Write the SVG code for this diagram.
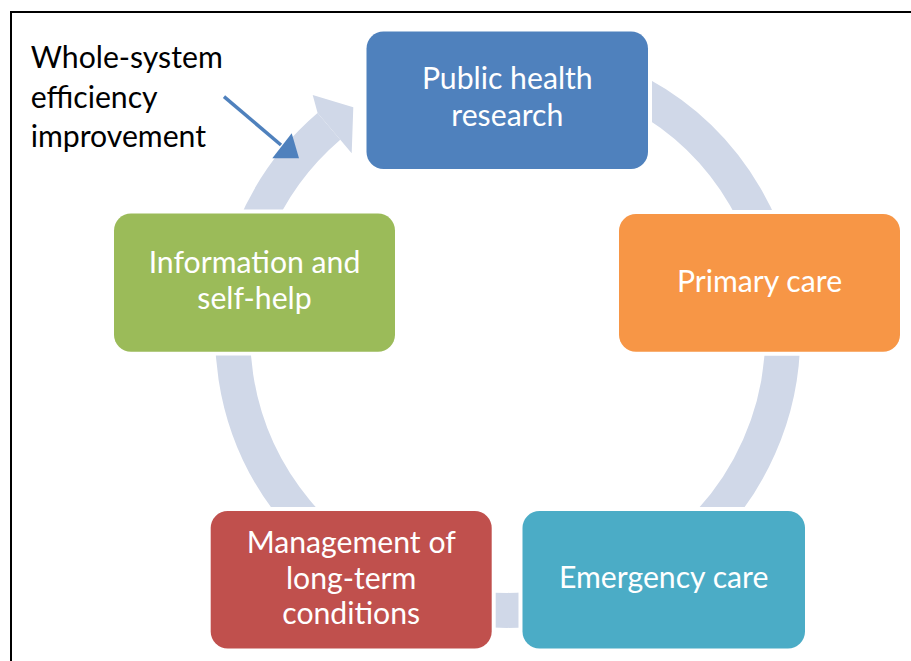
<svg xmlns="http://www.w3.org/2000/svg" width="911" height="661" viewBox="0 0 911 661">
<style>
.box text{fill:#fff;font-family:Lato,"Open Sans",sans-serif;font-size:30.2px;text-anchor:middle}
.mask{fill:#fff}
.lbl{fill:#000;font-family:Lato,"Open Sans",sans-serif;font-size:30.2px}
</style>
<rect width="911" height="661" fill="#fff"/>
<path d="M11,661 V12 H911" fill="none" stroke="#000" stroke-width="2"/>
<g id="connectors">
<path d="M372.1,96.1 A275,275 0 1 1 328.9,126.4" fill="none" stroke="#D0D8E8" stroke-width="35"/>
<g class="mask">
<rect x="362.5" y="27.5" width="289.5" height="145.5" rx="21"/>
<rect x="615" y="210" width="289" height="145.7" rx="21"/>
<rect x="518.5" y="507" width="290.5" height="145.5" rx="21"/>
<rect x="206.7" y="507" width="289" height="145.5" rx="21"/>
<rect x="110" y="209.5" width="289" height="146" rx="21"/>
</g>
<polygon points="312.7,95 353.3,107.3 351.7,153.3 340.3,139.7 317.6,113.1" fill="#D0D8E8"/>
</g>
<g id="public-health" class="box">
<rect x="366.5" y="31.5" width="281.5" height="137.5" rx="17" fill="#4F81BD"/>
<text x="507.3" y="89.3">Public health</text>
<text x="507.3" y="126">research</text>
</g>
<g id="primary-care" class="box">
<rect x="619" y="214" width="281" height="137.7" rx="17" fill="#F79646"/>
<text x="759.5" y="292">Primary care</text>
</g>
<g id="emergency-care" class="box">
<rect x="522.5" y="511" width="282.5" height="137.5" rx="17" fill="#4BACC6"/>
<text x="663.7" y="588.3">Emergency care</text>
</g>
<g id="management" class="box">
<rect x="210.7" y="511" width="281" height="137.5" rx="17" fill="#C0504D"/>
<text x="351.2" y="552.5">Management of</text>
<text x="351.2" y="588.5">long-term</text>
<text x="351.2" y="624">conditions</text>
</g>
<g id="information" class="box">
<rect x="114" y="213.5" width="281" height="138.2" rx="17" fill="#9BBB59"/>
<text x="254.5" y="273.3">Information and</text>
<text x="254.5" y="309.3">self-help</text>
</g>
<g id="label">
<text class="lbl" x="30.7" y="68.3">Whole-system</text>
<text class="lbl" x="30.7" y="108">efficiency</text>
<text class="lbl" x="30.7" y="146.7">improvement</text>
<line x1="224" y1="96.7" x2="281" y2="145" stroke="#4F81BD" stroke-width="3.5"/>
<polygon points="291.7,133.3 272.3,158.3 299,158.3" fill="#4F81BD"/>
</g>
</svg>
